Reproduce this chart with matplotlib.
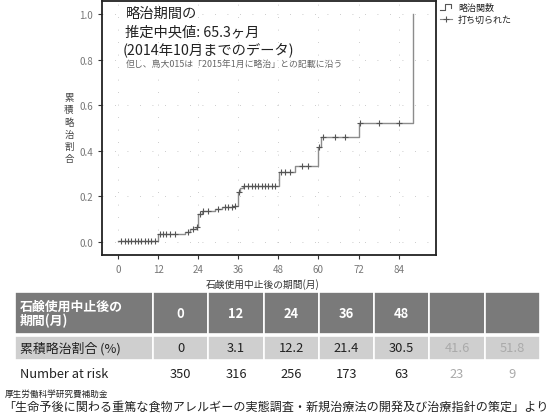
import numpy as np
import matplotlib
matplotlib.use("Agg")
import matplotlib.pyplot as plt
from matplotlib.patches import Rectangle

plt.rcParams['font.family'] = ['Noto Sans CJK JP', 'DejaVu Sans']

# step curve (event times in months, cumulative proportion)
step_t = [0, 12.0, 20.0, 21.5, 23.2, 24.0, 25.0, 29.0, 31.0, 34.5, 35.8,
          36.6, 37.3, 48.3, 53.0, 60.0, 60.8, 72.2, 88.2]
step_v = [0.005, 0.033, 0.045, 0.055, 0.064, 0.123, 0.135, 0.145, 0.153,
          0.160, 0.218, 0.237, 0.245, 0.308, 0.333, 0.418, 0.462, 0.520, 1.0]
# censored observations
cens_t = [1, 2, 3, 4, 5, 6, 7, 8, 9, 10, 11,
          12.5, 13.5, 14.5, 15.5, 17, 21, 22.5, 23.5,
          24.5, 25.5, 27, 30, 32, 33, 34, 35, 36.2,
          37.8, 39, 40, 41, 42, 43, 44, 45, 46, 47,
          48.7, 50, 51.5, 55, 57, 60.3, 61.3, 65, 68, 72.5, 78, 84]

xticks = [0, 12, 24, 36, 48, 60, 72, 84]
yticks = [0.0, 0.2, 0.4, 0.6, 0.8, 1.0]

# table
col_months = ["0", "12", "24", "36", "48", "", ""]
cum_pct = ["0", "3.1", "12.2", "21.4", "30.5", "41.6", "51.8"]
at_risk = ["350", "316", "256", "173", "63", "23", "9"]
n_dark = 5   # first five columns are printed dark, the rest faded

fig = plt.figure(figsize=(5.5, 4.14), dpi=100)
ax = fig.add_axes([0.1855, 0.3816, 0.6073, 0.6135])

ax.step(step_t, step_v, where="post", color="#8c8c8c", lw=1.0, zorder=2)
cy = [step_v[np.searchsorted(step_t, c, side="right") - 1] for c in cens_t]
ax.plot(cens_t, cy, ls="none", marker="+", ms=4.5, mew=0.8, color="#555555", zorder=3)

ax.set_xlim(-4.8, 95.2)
ax.set_ylim(-0.057, 1.057)
ax.set_xticks(xticks)
ax.set_yticks(yticks)
ax.set_yticklabels(["%.1f" % v for v in yticks])
ax.tick_params(labelsize=7, colors="#333333", labelcolor="#777777", length=3, width=0.8)
ax.grid(True, color="#bbbbbb", lw=0.6, ls=(0, (1, 14)))
for s in ax.spines.values():
    s.set_linewidth(1.3)
    s.set_color("#222222")

ax.text(0.07, 0.955, "略治期間の", transform=ax.transAxes, fontsize=10.3, color="#222222", va="center")
ax.text(0.07, 0.88, "推定中央値: 65.3ヶ月", transform=ax.transAxes, fontsize=10.3, color="#222222", va="center")
ax.text(0.062, 0.813, "(2014年10月までのデータ)", transform=ax.transAxes, fontsize=10.3, color="#222222", va="center")
ax.text(0.07, 0.755, "但し、鳥大015は「2015年1月に略治」との記載に沿う", transform=ax.transAxes,
        fontsize=6.4, color="#666666", va="center")

# overlay in pixel coordinates for axis titles, legend, table and footer
ov = fig.add_axes([0, 0, 1, 1], facecolor="none")
ov.set_xlim(0, 550)
ov.set_ylim(414, 0)
ov.axis("off")

ov.text(263, 285, "石鹸使用中止後の期間(月)", fontsize=7, color="#333333", ha="center", va="center")
ov.text(69, 129, "累\n積\n略\n治\n割\n合", fontsize=6.8, color="#444444",
        ha="center", va="center", linespacing=1.45)

ov.plot([440, 445, 445, 451, 451], [11, 11, 5, 5, 9], color="#555555", lw=0.8)
ov.plot([440, 452], [20, 20], color="#888888", lw=0.8)
ov.plot([446], [20], marker="+", ms=5, mew=0.8, color="#555555")
ov.text(458, 8, "略治関数", fontsize=6.5, color="#222222", va="center")
ov.text(458, 20, "打ち切られた", fontsize=6.5, color="#222222", va="center")

x0, xw = 15, 138
cw = (540 - (x0 + xw)) / len(cum_pct)
r1, r1h = 293, 42
r2, r2h = 337, 24
ov.add_patch(Rectangle((x0, r1), xw, r1h, fc="#7a7a7a", ec="white", lw=1.2))
ov.add_patch(Rectangle((x0, r2), xw, r2h, fc="#cfcfcf", ec="white", lw=1.2))
ov.text(x0 + 5, r1 + r1h / 2, "石鹸使用中止後の\n期間(月)", fontsize=9.3, color="white",
        fontweight="bold", va="center", linespacing=1.05)
ov.text(x0 + 5, r2 + r2h / 2, "累積略治割合 (%)", fontsize=9.3, color="#222222", va="center")
ov.text(x0 + 5, 375, "Number at risk", fontsize=9.3, color="#222222", va="center")
for i, (m, p, n) in enumerate(zip(col_months, cum_pct, at_risk)):
    cx = x0 + xw + i * cw
    col = "#222222" if i < n_dark else "#aaaaaa"
    ov.add_patch(Rectangle((cx, r1), cw, r1h, fc="#7a7a7a", ec="white", lw=1.2))
    ov.add_patch(Rectangle((cx, r2), cw, r2h, fc="#cfcfcf", ec="white", lw=1.2))
    ov.text(cx + cw / 2, r1 + r1h / 2, m, fontsize=9.3, color="white", fontweight="bold",
            ha="center", va="center")
    ov.text(cx + cw / 2, r2 + r2h / 2, p, fontsize=9.3, color=col, ha="center", va="center")
    ov.text(cx + cw / 2, 375, n, fontsize=9.3, color=col, ha="center", va="center")

ov.text(5, 394, "厚生労働科学研究費補助金", fontsize=6.2, color="#222222", va="center")
ov.text(3, 407, "「生命予後に関わる重篤な食物アレルギーの実態調査・新規治療法の開発及び治療指針の策定」より",
        fontsize=8.7, color="#222222", va="center")

fig.savefig("out.png", dpi=100)
